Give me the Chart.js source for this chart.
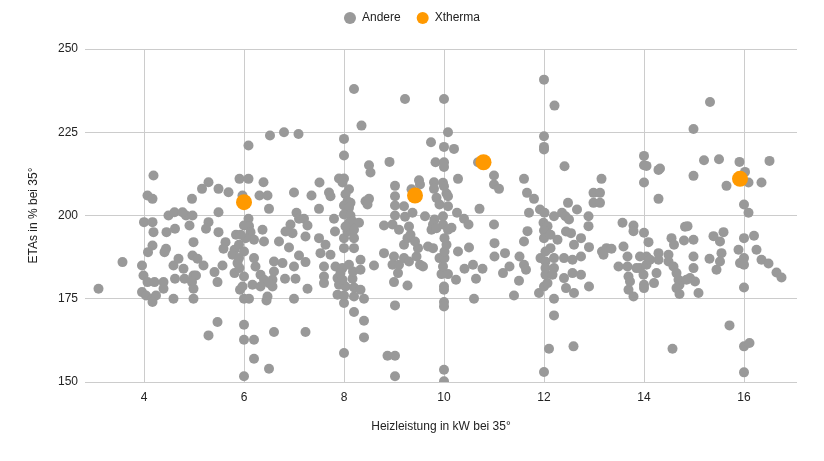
<!DOCTYPE html>
<html lang="de">
<head>
  <meta charset="UTF-8" />
  <title>ETAs vs. Heizleistung</title>
  <script src="https://cdn.jsdelivr.net/npm/chart.js"></script>
  <style>
    body { margin: 0; background: #fff; }
    canvas { display: block; }
  </style>
</head>
<body>
  <canvas id="scatterChart" width="824" height="461"></canvas>

  <script>
    const andere = [
      [3.09,178],[3.57,186],
      [4.0,198],[4.17,198],[4.19,195],[4.45,195],[4.62,196],[4.49,200],[4.17,191],[4.08,189],[4.44,190],[4.41,189],
      [3.96,185],[3.99,182],[4.07,180],[4.21,180],[4.39,180],[4.39,178],[3.96,177],[4.04,176],[4.17,175],[4.24,176],
      [4.17,174],[4.59,175],[4.62,181],[4.81,181],[4.59,185],[4.79,184],[4.69,187],[4.99,192],[4.97,188],[5.07,187],
      [5.19,185],[4.99,182],[5.04,182],[4.96,180],[4.99,178],[4.99,175],[4.84,200],[4.91,197],[4.97,200],[4.61,201],
      [4.77,201],[5.29,198],[5.24,196],[5.49,195],[5.49,201],[5.47,168],[5.29,164],[5.41,183],[5.47,180],[5.57,185],
      [5.63,192],[5.59,190],[6.09,221],[4.19,212],[4.07,206],[4.17,205],[5.29,210],[5.16,208],[5.49,208],[5.69,207],
      [5.91,211],[6.09,211],[6.39,210],[4.96,205],[5.97,206],[6.31,206],[6.47,206],[5.81,189.7],[5.77,188.2],[5.81,182.7],
      [5.91,184.2],[5.87,185.7],[5.84,194.2],[5.92,177.7],
      [8.2,238],[9.22,235],[8.35,227],[6.52,224],[6.8,225],[7.09,224.5],[8.0,223],[8.0,218],[8.5,215.1],[8.53,212.9],
      [8.91,216.1],[7.0,206.9],[7.51,209.9],[7.35,206],[7.7,206.9],[7.73,205.8],[7.9,211.1],[8.0,211.1],[7.97,209.9],
      [8.1,207.9],[8.03,206.4],[8.07,204.3],[8.0,203],[8.13,203.8],[8.1,202.3],[8.43,204.3],[8.5,205],[8.47,203.3],
      [9.02,208.9],[9.02,205.8],[9.02,203],[9.2,202.8],[9.35,207.9],[6.5,202],[7.5,202],[7.05,200.8],[7.1,199],[7.2,199],
      [7.27,197],[6.93,197.3],[7.8,199],[8.0,200.3],[8.13,200],[8.17,198.3],[8.3,197.8],[8.1,197.8],[9.02,200],[9.22,199.6],
      [9.37,200.8],[8.8,197],[8.97,197.3],[6.09,199],[6.0,197],[6.1,196.8],
      [6.0,175],[6.1,175],[6.47,175.7],[6.45,174.5],[7.0,175],[7.27,178],[6.0,167.2],[6.0,162.7],[6.2,162.7],[6.6,165],
      [7.23,165],[6.2,157],[6.5,154],[6.0,151.7],[8.0,173.7],[8.2,171],[8.4,175],[8.4,168.4],[8.4,163.4],[8.0,158.7],
      [8.87,157.9],[9.02,157.9],[9.02,151.7],[9.02,173],[9.27,179],[9.0,180],[7.87,176.2],[8.0,176],[8.2,175.7],[7.9,179.2],
      [8.03,178.7],[8.2,178.4],[7.87,181.2],[7.97,180.7],[8.17,181],[8.18,183.2],[8.33,183.7],[7.83,184.7],[7.97,184.2],
      [8.1,185.2],[7.93,182.7],[7.6,184.7],[7.6,181.7],[7.6,179.7],[8.33,186.7],[8.6,185],[8.0,190.2],[8.0,193.2],
      [8.07,195.2],[8.2,190.2],[8.2,193.2],[8.2,195.7],[8.03,196.7],[7.53,188.7],[7.63,191.2],[7.73,188.2],[7.5,193.2],
      [7.82,195.2],[7.23,193.7],[6.97,194.7],[6.83,195.2],[6.9,190.4],[7.1,188],[7.0,184.7],[7.23,186],[6.77,185.7],
      [6.6,186.2],[6.7,192.2],[6.82,181],[7.03,181],[6.6,183.2],[6.57,180.7],[6.57,178.7],[6.4,192.2],[6.37,195.7],
      [6.13,195],[6.2,192.7],[6.03,193.2],[5.93,194.2],[5.9,191.2],[6.0,189.2],[5.9,187.2],[6.2,187.2],[6.23,184.7],
      [6.33,182.2],[6.4,180.7],[6.5,179.7],[6.0,181.7],[5.97,178.7],[6.17,179.2],[6.33,178.7],[8.8,188.7],[9.0,187.7],
      [8.97,185.2],[9.1,185.2],[9.2,187.2],[9.3,186.2],[9.2,191.2],[9.27,193.2],[9.33,194.2],[9.1,195.7],[9.3,196.7],
      [9.08,182.7],[8.33,177.7],
      [10.0,235],[12.0,240.8],[12.21,233],[10.08,225],[9.74,222],[10.0,220.6],[10.2,220],[12.0,223.8],[12.0,220.6],
      [12.0,219.8],[12.41,214.8],[9.83,216],[10.0,216],[10.0,214.6],[10.68,216],[10.28,211],[11.0,212],[11.0,209.3],
      [11.1,208],[11.6,211],[13.15,211],[9.5,210.6],[9.52,209.3],[9.8,210],[9.8,208],[9.98,209.8],[10.0,208.8],[9.85,205.3],
      [10.05,206.6],[10.08,205.8],[9.91,203.3],[10.08,202.8],[10.26,200.8],[10.71,202],[10.4,199],[10.49,197.3],
      [11.66,206.8],[11.8,205],[11.7,200.8],[11.92,201.8],[12.01,200.8],[12.48,203.8],[12.66,201.8],[12.99,206.8],
      [12.99,203.8],[12.2,199.8],[12.36,200.8],[12.43,199.8],[12.5,198.8],[12.89,199.8],[12.89,196.8],[9.62,199.8],
      [9.81,198.8],[9.98,199.8],[9.98,197.3],[10.15,196.3],[9.78,197.3],[11.0,197.3],[11.67,195.3],[11.99,197.8],[12.07,196.8],
      [10.0,153.7],[10.0,150.2],[12.0,153],[12.1,160],[12.59,160.7],[12.2,170],[12.2,175],[10.0,174],[10.0,172.7],
      [10.0,178.7],[10.0,177.7],[10.6,175],[11.4,176],[11.9,176.7],[12.0,178.7],[12.07,179.7],[11.5,180.4],[10.64,181],
      [10.77,184],[10.58,185.2],[10.41,184],[10.24,180.7],[9.95,182.4],[10.08,182.4],[9.98,184.7],[9.52,185.2],[9.58,184.7],
      [9.45,187.7],[9.48,190.2],[9.42,192.2],[9.68,190.7],[9.78,190.2],[9.91,187.2],[10.01,187.2],[10.01,189.2],[10.05,191.2],
      [10.01,193.2],[10.08,195.7],[9.75,195.7],[9.85,196.2],[10.28,189.2],[10.5,190.4],[11.01,191.7],[11.01,187.7],
      [11.22,188.7],[11.18,182.7],[11.31,184.7],[11.51,187.7],[11.6,185.2],[11.64,183.7],[11.6,192.2],[12.0,195.5],
      [12.0,193.2],[11.93,187.2],[12.03,186.2],[12.03,184.2],[12.03,182.2],[12.13,190.2],[12.2,187.2],[12.2,184.2],
      [12.17,182.2],[12.27,192.7],[12.13,194.2],[12.03,189.2],[12.4,187.2],[12.57,186.7],[12.74,187.7],[12.4,181.2],
      [12.57,182.7],[12.44,178.2],[12.6,176.7],[12.74,182.2],[12.9,178.7],[12.44,195.2],[12.54,194.7],[12.6,191.2],
      [12.74,193.2],[12.9,190.5],[13.16,189.2],
      [15.32,234.1],[14.99,226],[14.0,217.9],[14.0,215.1],[14.05,214.9],[14.29,213.7],[14.32,214.1],[14.0,209.9],
      [14.99,211.9],[14.29,205],[15.2,216.6],[15.5,216.9],[15.91,216.1],[16.02,213.1],[16.51,216.4],[15.65,208.9],
      [16.09,209.9],[16.35,209.9],[16.0,203.3],[16.09,200.8],[13.12,206.8],[13.12,203.8],[13.57,197.8],[13.79,197],
      [13.79,195.3],[14.0,194.8],[14.82,196.6],[14.87,196.8],[14.55,193.2],[14.8,192.5],[14.99,192.7],[15.39,193.8],
      [15.59,195],[16.0,193.2],[16.2,193.9],
      [16.0,152.9],[16.0,160.7],[16.11,161.7],[15.71,167],[14.57,160],[16.0,178.4],[15.09,176.7],[14.71,176.4],
      [13.79,175.7],[13.69,177.7],[14.0,178.2],[14.0,179.2],[14.2,179.7],[14.25,182.7],[13.69,181.7],[13.72,180.2],
      [13.99,182.2],[13.92,184.2],[13.49,184.7],[13.67,184.7],[13.85,184.2],[14.05,185.2],[14.05,187.7],[13.92,187.7],
      [14.12,186.7],[13.67,187.7],[13.59,190.7],[13.25,190.2],[13.19,188.2],[13.35,190],[14.09,192],[14.29,188.7],
      [14.29,186.7],[14.49,188.2],[14.49,186.2],[14.59,184.7],[14.65,182.7],[14.69,180.7],[14.71,179.2],[14.65,178.2],
      [14.6,191.2],[14.99,187.7],[14.99,184.2],[14.92,181.2],[15.02,180.2],[14.85,180.7],[15.31,187],[15.45,183.7],
      [15.52,186.2],[15.55,188.7],[15.52,192.2],[15.89,189.7],[15.92,185.7],[16.0,185.2],[16.0,187.2],[16.25,189.7],
      [16.35,186.7],[16.49,185.6],[16.65,182.9],[16.75,181.4]
    ];
    const xtherma = [[6.0,204],[9.42,206],[10.79,216],[15.92,211]];

    const xTicks = [4, 6, 8, 10, 12, 14, 16];
    const yTicks = [150, 175, 200, 225, 250];

    const tickFont = { family: "'Liberation Sans', Arial, sans-serif", size: 12 };

    // Legende auf feste Hoehe bringen
    const legendHeight = {
      id: 'legendHeight',
      beforeInit(chart) {
        const fit = chart.legend.fit;
        chart.legend.fit = function () {
          fit.bind(chart.legend)();
          this.height = 53;
        };
      }
    };

    const ctx = document.getElementById('scatterChart').getContext('2d');
    new Chart(ctx, {
      type: 'scatter',
      data: {
        datasets: [
          {
            label: 'Andere',
            data: andere.map(p => ({ x: p[0], y: p[1] })),
            backgroundColor: '#999999',
            borderColor: '#999999',
            borderWidth: 0,
            pointRadius: 5,
            order: 2
          },
          {
            label: 'Xtherma',
            data: xtherma.map(p => ({ x: p[0], y: p[1] })),
            backgroundColor: '#ff9900',
            borderColor: '#ff9900',
            borderWidth: 0,
            pointRadius: 8,
            order: 1
          }
        ]
      },
      options: {
        responsive: false,
        animation: false,
        layout: { padding: { top: -4, left: 0, right: 0, bottom: 0 } },
        plugins: {
          tooltip: { enabled: false },
          legend: {
            position: 'top',
            labels: {
              usePointStyle: true,
              pointStyle: 'circle',
              boxWidth: 12,
              boxHeight: 8.5,
              padding: 16,
              color: '#222',
              font: tickFont,
              sort: (a, b) => a.datasetIndex - b.datasetIndex
            }
          }
        },
        scales: {
          x: {
            type: 'linear',
            min: 2.82,
            max: 17.06,
            afterBuildTicks: axis => { axis.ticks = xTicks.map(v => ({ value: v })); },
            afterFit: scale => { scale.height = 79; scale.paddingRight = 27; scale.paddingLeft = 0; },
            grid: { color: '#cccccc', drawTicks: false },
            border: { display: false },
            ticks: { color: '#222', font: tickFont, padding: 8 },
            title: {
              display: true,
              text: 'Heizleistung in kW bei 35°',
              color: '#222',
              font: tickFont,
              padding: { top: 4, bottom: 27 }
            }
          },
          y: {
            min: 150,
            max: 250,
            afterBuildTicks: axis => { axis.ticks = yTicks.map(v => ({ value: v })); },
            afterFit: scale => { scale.width = 85; },
            grid: { color: '#cccccc', drawTicks: false },
            border: { display: false },
            ticks: { color: '#222', font: tickFont, padding: 7 },
            title: {
              display: true,
              text: 'ETAs in % bei 35°',
              color: '#222',
              font: tickFont,
              padding: { top: 26, bottom: 4 }
            }
          }
        }
      },
      plugins: [legendHeight]
    });
  </script>
</body>
</html>
